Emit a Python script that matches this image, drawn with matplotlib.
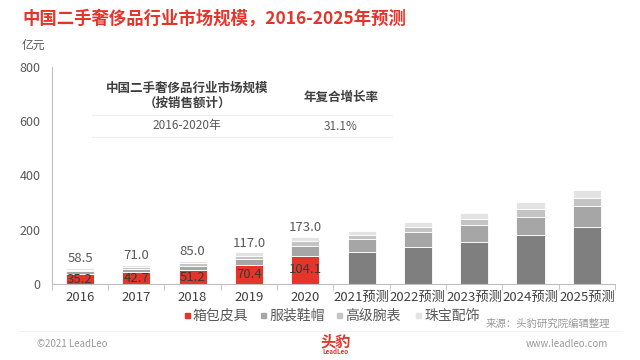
import matplotlib
matplotlib.use('Agg')
import matplotlib.pyplot as plt
from matplotlib.patches import Rectangle
import numpy as np

plt.rcParams['font.family'] = ['Noto Sans CJK SC', 'DejaVu Sans']

categorias = ['2016', '2017', '2018', '2019', '2020',
              '2021预测', '2022预测', '2023预测', '2024预测', '2025预测']
bolsos = [35.2, 42.7, 51.2, 70.4, 104.1, 118, 135, 156, 181, 209]
ropa = [12, 14, 17, 22.6, 37, 48, 55, 60, 67, 77]
relojes = [5, 6, 8, 11, 16, 16, 19, 24, 28, 31]
joyas = [6.3, 8.3, 8.8, 13, 15.9, 15, 20, 22, 25, 30]
totales = [58.5, 71.0, 85.0, 117.0, 173.0]
n_hist = 5

rojo = '#e5342a'
gris_txt = '#595959'

fig = plt.figure(figsize=(6.4, 3.6), dpi=100)
ax = fig.add_axes([0.081, 0.211, 0.88, 0.603])

x = np.arange(len(categorias))
ancho = 0.5
col_base = [rojo] * n_hist + ['#7f7f7f'] * (len(categorias) - n_hist)
b = np.array(bolsos)
r = np.array(ropa)
w = np.array(relojes)
j = np.array(joyas)
ax.bar(x, b, ancho, color=col_base, edgecolor='white', linewidth=0.6)
ax.bar(x, r, ancho, bottom=b, color='#a6a6a6', edgecolor='white', linewidth=0.6)
ax.bar(x, w, ancho, bottom=b + r, color='#c4c4c4', edgecolor='white', linewidth=0.6)
ax.bar(x, j, ancho, bottom=b + r + w, color='#e3e3e3', edgecolor='white', linewidth=0.6)

for i in range(n_hist):
    ax.text(x[i], totales[i] + 10, f'{totales[i]:.1f}', ha='center', va='bottom',
            fontsize=9.5, color=gris_txt)
    ax.text(x[i], bolsos[i] / 2, f'{bolsos[i]:.1f}', ha='center', va='center',
            fontsize=9.5, color='#3a3a3a')

ax.set_xlim(-0.5, len(categorias) - 0.5)
ax.set_ylim(0, 800)
ax.set_yticks([0, 200, 400, 600, 800])
ax.set_xticks(x)
ax.set_xticklabels(categorias)
ax.set_xticks(np.arange(-0.5, len(categorias), 1), minor=True)
ax.tick_params(axis='x', which='major', length=0, labelsize=9.5, labelcolor='#404040', pad=5)
ax.tick_params(axis='x', which='minor', length=4, color='#bfbfbf', direction='out')
ax.tick_params(axis='y', length=0, labelsize=9, labelcolor=gris_txt, pad=8)
for s in ['top', 'right']:
    ax.spines[s].set_visible(False)
ax.spines['left'].set_color('#bfbfbf')
ax.spines['bottom'].set_color('#bfbfbf')

# titulo y unidades
fig.text(22 / 640, 1 - 19 / 360, '中国二手奢侈品行业市场规模，2016-2025年预测',
         fontsize=12.5, color=rojo, weight='bold', va='center', ha='left')
fig.text(22 / 640, 1 - 45 / 360, '亿元', fontsize=8.5, color=gris_txt, va='center')

# tabla
tc = '#404040'
fig.text(187 / 640, 1 - 88 / 360, '中国二手奢侈品行业市场规模', fontsize=9,
         color=tc, weight='bold', ha='center', va='center')
fig.text(187 / 640, 1 - 103 / 360, '（按销售额计）', fontsize=9,
         color=tc, weight='bold', ha='center', va='center')
fig.text(341 / 640, 1 - 97 / 360, '年复合增长率', fontsize=9,
         color=tc, weight='bold', ha='center', va='center')
fig.text(187 / 640, 1 - 126 / 360, '2016-2020年', fontsize=8.5,
         color=gris_txt, ha='center', va='center')
fig.text(341 / 640, 1 - 126 / 360, '31.1%', fontsize=8.5,
         color=gris_txt, ha='center', va='center')
for yy in [115, 137]:
    fig.add_artist(plt.Line2D([92 / 640, 392 / 640], [1 - yy / 360] * 2,
                              color='#eeeeee', linewidth=0.8))

# leyenda
nombres = ['箱包皮具', '服装鞋帽', '高级腕表', '珠宝配饰']
colores = [rojo, '#a6a6a6', '#c4c4c4', '#e3e3e3']
pos_x = [185, 261, 337, 416]
for nom, c, px in zip(nombres, colores, pos_x):
    fig.add_artist(Rectangle((px / 640, 1 - 318 / 360), 5 / 640, 5 / 360,
                             transform=fig.transFigure, color=c))
    fig.text((px + 8) / 640, 1 - 315.5 / 360, nom, fontsize=10, color=gris_txt, va='center')

fig.text(610 / 640, 1 - 324 / 360, '来源：头豹研究院编辑整理', fontsize=7.5,
         color='#9a9a9a', style='italic', ha='right', va='center')

# pie
fig.add_artist(plt.Line2D([0.03, 0.97], [1 - 331 / 360] * 2, color='#f0f0f0', linewidth=0.8))
fig.text(37 / 640, 1 - 344 / 360, '©2021 LeadLeo', fontsize=7, color='#9a9a9a', va='center')
fig.text(608 / 640, 1 - 344 / 360, 'www.leadleo.com', fontsize=7, color='#9a9a9a',
         va='center', ha='right')
fig.text(320 / 640, 1 - 341 / 360, '头豹', fontsize=11, color=rojo, weight='bold',
         ha='left', va='center')
fig.text(322 / 640, 1 - 352 / 360, 'LeadLeo', fontsize=4.5, color=rojo, weight='bold',
         style='italic', ha='left', va='center')

fig.savefig('out.png', dpi=100, facecolor='white')
